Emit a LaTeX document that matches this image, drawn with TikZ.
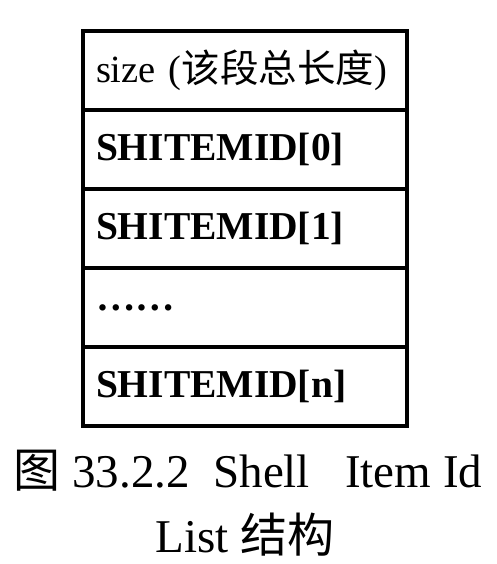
\documentclass[tikz,border=0pt]{standalone}
\usepackage{fontspec}
\setmainfont{Liberation Serif}
\newfontfamily\cjk{Noto Sans CJK SC}
\usetikzlibrary{positioning}
\tikzset{
  row/.style={draw, line width=3.5pt, outer sep=0pt, minimum height=79pt,
    text width=298pt, inner xsep=13pt, align=left, font=\fontsize{39.5}{41}\selectfont},
  caption/.style={font=\fontsize{47}{50}\selectfont, inner sep=0pt, anchor=base}
}
\begin{document}
\begin{tikzpicture}[x=1pt,y=-1pt]
  \useasboundingbox (0,0) rectangle (496,564);
  %%%%% rows %%%%%
  \node[row, font=\fontsize{38.5}{40}\selectfont] (size) at (245,70.5) {\mbox{size ({\cjk 该段总长度})}};
  \node[row, below=0pt of size] (item0) {\textbf{SHITEMID[0]}};
  \node[row, below=0pt of item0] (item1) {\textbf{SHITEMID[1]}};
  \node[row, below=0pt of item1] (dots) {\textbf{……}};
  \node[row, below=0pt of dots] (itemn) {\textbf{SHITEMID[n]}};
  %%%%% caption %%%%%
  \node[caption] (cap1) at (248,487) {{\cjk 图} 33.2.2\hspace{0.5em}Shell\hspace{0.75em}Item Id};
  \node[caption] (cap2) at (245,552) {List {\cjk 结构}};
\end{tikzpicture}
\end{document}
